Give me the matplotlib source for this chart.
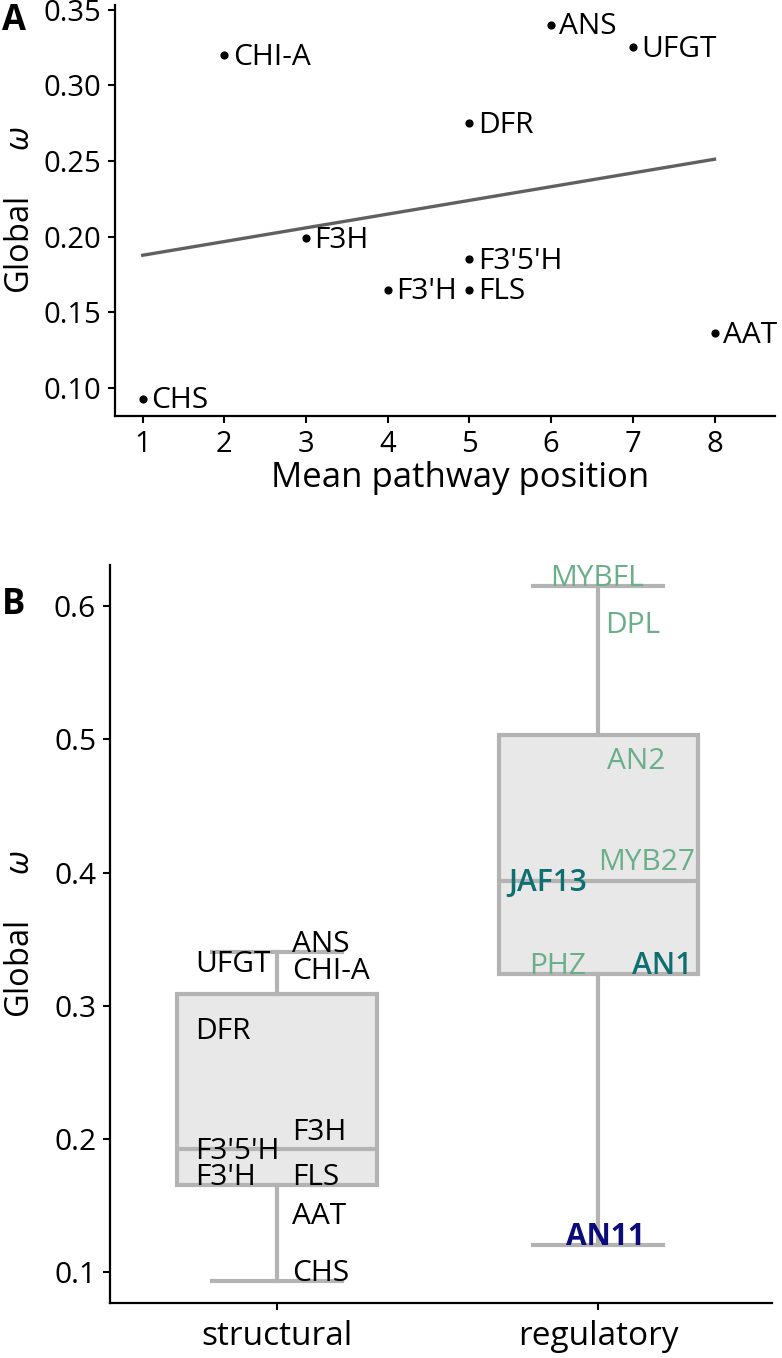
import numpy as np
import matplotlib
matplotlib.use("Agg")
from matplotlib import pyplot as plt

plt.rcParams['font.family'] = ['Open Sans', 'DejaVu Sans']
plt.rcParams['mathtext.fontset'] = 'custom'
plt.rcParams['mathtext.it'] = 'Open Sans:italic'
plt.rcParams['mathtext.rm'] = 'Open Sans'

# structural genes: mean pathway position and global omega
genes = ['CHS', 'CHI-A', 'F3H', "F3'H", "F3'5'H", 'FLS', 'DFR', 'ANS', 'UFGT', 'AAT']
position = [1, 2, 3, 4, 5, 5, 5, 6, 7, 8]
omega = [0.093, 0.320, 0.199, 0.165, 0.185, 0.165, 0.275, 0.340, 0.325, 0.136]

# regulatory genes
reg_genes = ['MYBFL', 'DPL', 'AN2', 'MYB27', 'JAF13', 'PHZ', 'AN1', 'AN11']
reg_omega = [0.615, 0.580, 0.478, 0.402, 0.386, 0.324, 0.324, 0.120]
reg_class = ['MYB', 'MYB', 'MYB', 'MYB', 'bHLH', 'MYB', 'bHLH', 'WDR']

groups = ['structural', 'regulatory']

# label layout for panel B (horizontal shift from the box centre)
struct_dx = [0.047, 0.047, 0.047, -0.255, -0.255, 0.047, -0.255, 0.047, -0.255, 0.047]
reg_dx = [-0.15, 0.022, 0.028, 0.0, -0.28, -0.215, 0.106, -0.10]
class_color = {'MYB': '#6aae8a', 'bHLH': '#0d6f70', 'WDR': '#0b0b7a'}
class_weight = {'MYB': 'normal', 'bHLH': 'semibold', 'WDR': 'bold'}

ylab = 'Global  $\\quad\\omega$'
lab_fs = 21.5

fig = plt.figure(figsize=(7.82, 13.58), dpi=100)
axA = fig.add_axes([0.147, 0.6937, 0.844, 0.3026])
axB = fig.add_axes([0.1407, 0.0405, 0.8463, 0.5435])

for ax in (axA, axB):
    ax.spines['top'].set_visible(False)
    ax.spines['right'].set_visible(False)
    for s in ('left', 'bottom'):
        ax.spines[s].set_linewidth(1.6)
    ax.tick_params(width=1.5, length=5, pad=5)

# ---- panel A
axA.scatter(position, omega, s=24, color='black', zorder=3)
k, b = np.polyfit(position, omega, 1)
xs = np.array([min(position), max(position)])
axA.plot(xs, k * xs + b, color='#606060', lw=2.4)
for g, x, y in zip(genes, position, omega):
    axA.annotate(g, (x, y), xytext=(6, -1.5), textcoords='offset points',
                 va='center', ha='left', fontsize=lab_fs)

axA.set_xlim(0.66, 8.74)
axA.set_ylim(0.0815, 0.353)
axA.set_xticks(range(1, 9))
axA.set_yticks([0.10, 0.15, 0.20, 0.25, 0.30, 0.35])
axA.set_yticklabels(['%.2f' % v for v in axA.get_yticks()])
axA.tick_params(labelsize=21)
axA.set_xlabel('Mean pathway position', fontsize=25)
axA.xaxis.set_label_coords(0.523, -0.11)
axA.set_ylabel(ylab, fontsize=23.5)
axA.yaxis.set_label_coords(-0.118, 0.5)

# ---- panel B
box_grey = '#b3b3b3'
bp = axB.boxplot([omega, reg_omega], positions=[0, 1], widths=0.62,
                 patch_artist=True, showfliers=False, capwidths=0.405,
                 boxprops=dict(facecolor='#e8e8e8', edgecolor=box_grey, linewidth=3),
                 whiskerprops=dict(color=box_grey, linewidth=3),
                 capprops=dict(color=box_grey, linewidth=3),
                 medianprops=dict(color=box_grey, linewidth=3))

for g, y, dx in zip(genes, omega, struct_dx):
    axB.text(0 + dx, y, g, fontsize=lab_fs, color='black', ha='left', va='baseline')
for g, y, dx, c in zip(reg_genes, reg_omega, reg_dx, reg_class):
    axB.text(1 + dx, y, g, fontsize=lab_fs, color=class_color[c],
             fontweight=class_weight[c], ha='left', va='baseline')

axB.set_xlim(-0.52, 1.54)
axB.set_ylim(0.0767, 0.631)
axB.set_xticks([0, 1])
axB.set_xticklabels(groups)
axB.set_yticks([0.1, 0.2, 0.3, 0.4, 0.5, 0.6])
axB.set_yticklabels(['%.1f' % v for v in axB.get_yticks()])
axB.tick_params(axis='y', labelsize=21.5)
axB.tick_params(axis='x', labelsize=24, pad=7)
axB.set_ylabel(ylab, fontsize=23.5)
axB.yaxis.set_label_coords(-0.11, 0.5)

fig.text(0.003, 0.9975, 'A', fontsize=25, fontweight='bold', va='top', ha='left')
fig.text(0.003, 0.5675, 'B', fontsize=25, fontweight='bold', va='top', ha='left')

fig.savefig('out.png', dpi=100)
